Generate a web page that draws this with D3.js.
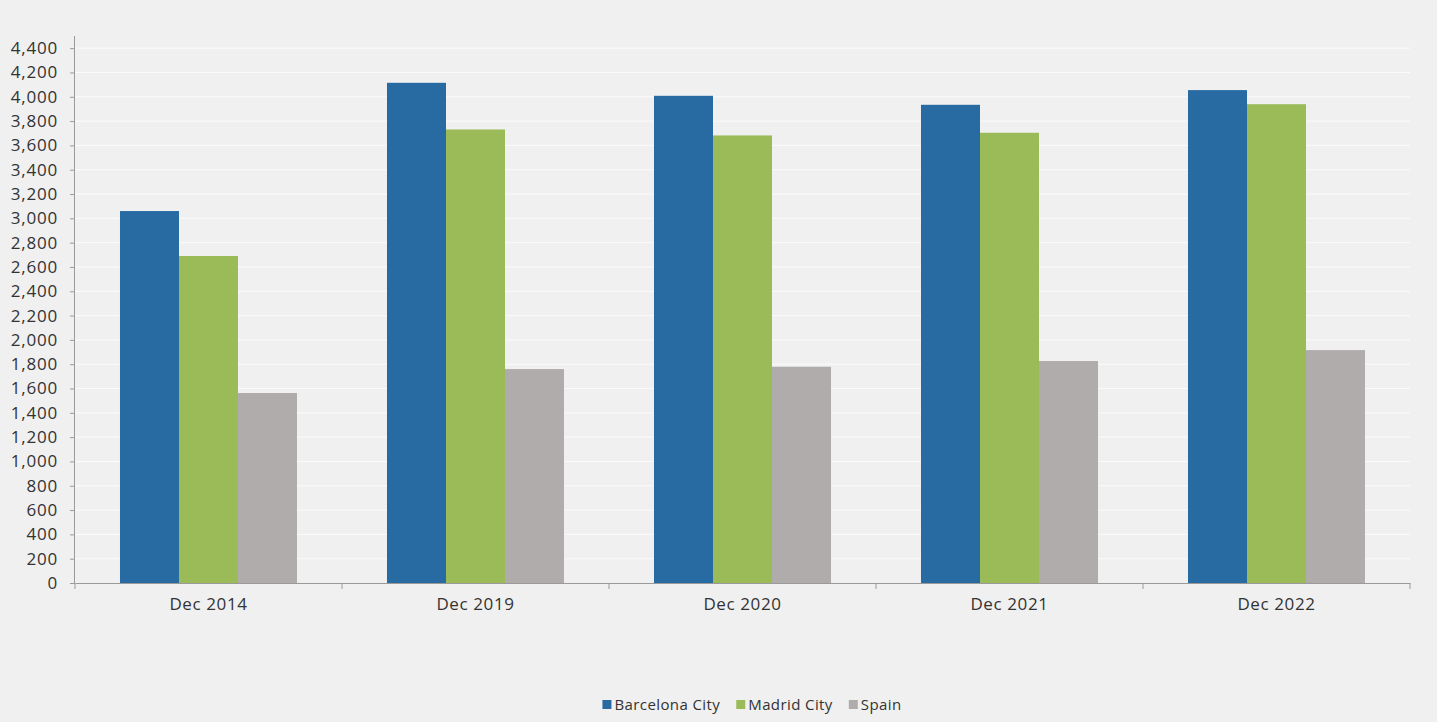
<!DOCTYPE html>
<html>
<head>
<meta charset="utf-8">
<script src="https://cdn.jsdelivr.net/npm/d3@7"></script>
<style>
  html, body { margin: 0; padding: 0; background: #f0f0f0; }
  svg { display: block; }
  text { font-family: "Open Sans", "DejaVu Sans", sans-serif; fill: #333; }
</style>
</head>
<body>
<svg id="chart" width="1437" height="722"></svg>
<script>
const categories = ["Dec 2014", "Dec 2019", "Dec 2020", "Dec 2021", "Dec 2022"];
const seriesNames = ["Barcelona City", "Madrid City", "Spain"];
const barcelona = [3060, 4115, 4008, 3934, 4055];
const madrid = [2690, 3731, 3682, 3704, 3939];
const spain = [1563, 1760, 1779, 1826, 1916];
const seriesColors = ["#276ba2", "#9bbb59", "#afacab"];
const yTicks = d3.range(0, 4401, 200);

const series = [barcelona, madrid, spain];
const svg = d3.select("#chart");
const margin = { left: 75, right: 27, top: 36, bottom: 139 };
const W = 1437, H = 722;
const x0 = d3.scaleBand().domain(categories).range([margin.left, W - margin.right]).paddingInner(0).paddingOuter(0);
const groupPad = 0.337;
const x1 = d3.scaleBand().domain(seriesNames)
  .range([x0.bandwidth() * groupPad / 2, x0.bandwidth() * (1 - groupPad / 2)]).padding(0);
const y = d3.scaleLinear().domain([0, 4500]).range([H - margin.bottom, margin.top]);

// gridlines
svg.append("g").selectAll("line").data(yTicks.filter(d => d > 0)).join("line")
  .attr("x1", margin.left).attr("x2", W - margin.right)
  .attr("y1", d => y(d)).attr("y2", d => y(d))
  .attr("stroke", "#fbfbfb").attr("stroke-width", 1);

// bars
const groups = svg.append("g").selectAll("g").data(categories).join("g")
  .attr("transform", d => `translate(${x0(d)},0)`);
groups.selectAll("rect").data((c, i) => seriesNames.map((s, j) => ({ s, v: series[j][i], j })))
  .join("rect")
  .attr("x", d => x1(d.s)).attr("width", x1.bandwidth())
  .attr("y", d => y(d.v)).attr("height", d => y(0) - y(d.v))
  .attr("fill", d => seriesColors[d.j]);

// y axis
const yAxis = d3.axisLeft(y).tickValues(yTicks).tickFormat(d3.format(",")).tickSize(5).tickPadding(12);
const gy = svg.append("g").attr("transform", `translate(${margin.left},0)`).call(yAxis);
gy.select(".domain").attr("stroke", "#9a9a9a").attr("d", `M-0.5,${y(0)}V${margin.top}`);
gy.selectAll(".tick line").attr("stroke", "#9a9a9a");
gy.selectAll(".tick text").attr("font-size", 17).attr("letter-spacing", "0.8px").attr("fill", "#333");

// x axis
const xAxis = d3.axisBottom(x0).tickSize(0).tickPadding(15);
const gx = svg.append("g").attr("transform", `translate(0,${y(0)})`).call(xAxis);
gx.select(".domain").attr("stroke", "#9a9a9a");
gx.selectAll(".tick text").attr("font-size", 17).attr("letter-spacing", "0.6px").attr("fill", "#333");
const bounds = categories.map(c => x0(c)).concat([x0(categories[categories.length - 1]) + x0.bandwidth()]);
gx.append("g").selectAll("line").data(bounds).join("line")
  .attr("x1", d => d).attr("x2", d => d).attr("y1", 0).attr("y2", 6)
  .attr("stroke", "#9a9a9a");

// legend
const legend = svg.append("g").attr("transform", "translate(0,705)");
const items = legend.selectAll("g").data(seriesNames).join("g");
items.append("rect").attr("width", 9).attr("height", 9).attr("y", -5)
  .attr("fill", (d, i) => seriesColors[i]);
items.append("text").attr("x", 12).attr("dy", "0.35em").attr("font-size", 15)
  .attr("letter-spacing", "0.4px").text(d => d);
let cx = 0;
const widths = [];
items.each(function () { widths.push(this.getBBox().width); });
const gap = 16;
const total = d3.sum(widths) + gap * (widths.length - 1);
cx = 752 - total / 2;
items.attr("transform", (d, i) => {
  const t = `translate(${cx},0)`;
  cx += widths[i] + gap;
  return t;
});
</script>
</body>
</html>
